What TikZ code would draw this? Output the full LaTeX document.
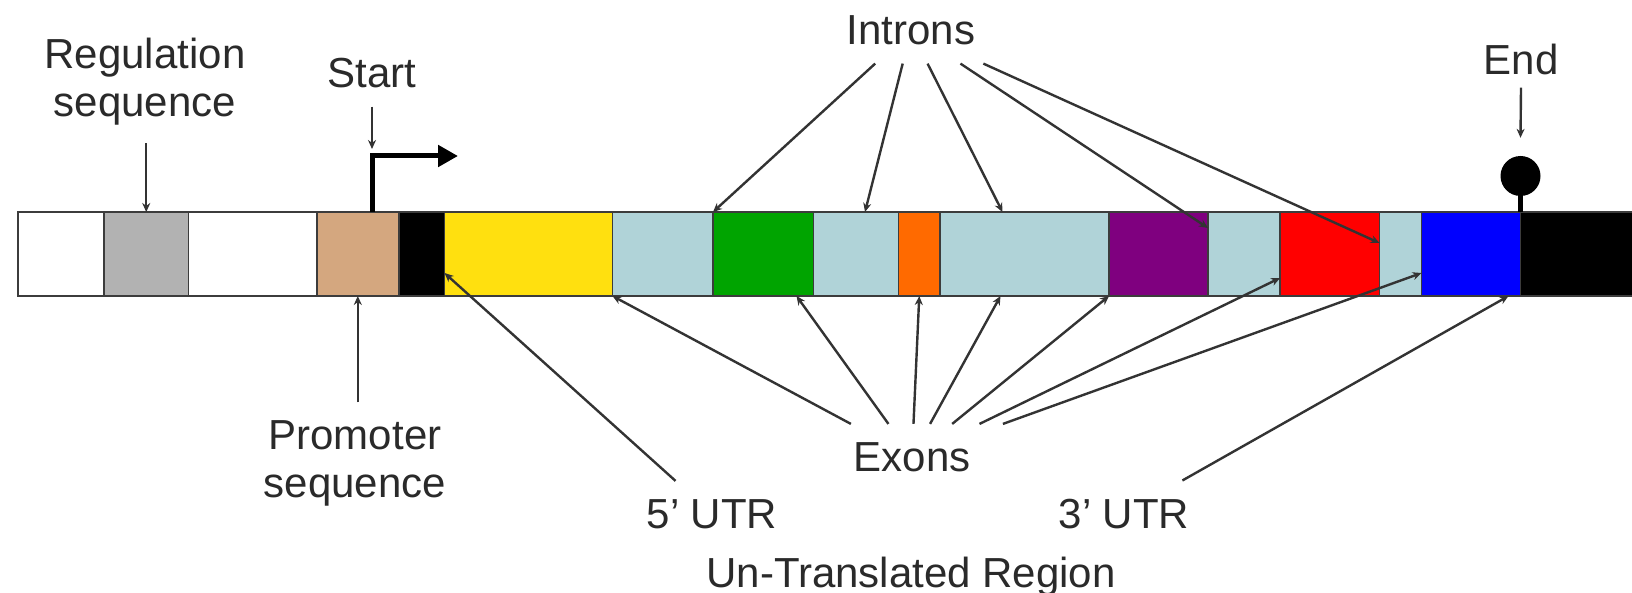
\documentclass[tikz,border=0pt]{standalone}
\usepackage{fontspec}
\setmainfont{Liberation Sans}
\usetikzlibrary{arrows.meta,calc}

\definecolor{inkgray}{HTML}{2A2A2A}
\definecolor{linegray}{HTML}{333333}
\definecolor{edgegray}{HTML}{3C3C3C}
\definecolor{regul}{HTML}{B2B2B2}
\definecolor{promo}{HTML}{D4A77F}
\definecolor{utrfive}{HTML}{FFE00F}
\definecolor{intron}{HTML}{B0D3D8}
\definecolor{exgreen}{HTML}{00A400}
\definecolor{exorange}{HTML}{FF6A00}
\definecolor{expurple}{HTML}{7F007F}
\definecolor{exred}{HTML}{FF0000}
\definecolor{utrthree}{HTML}{0000FF}

\begin{document}
\begin{tikzpicture}[x=1pt,y=-1pt,
  genebox/.style={draw=edgegray, line width=1.8pt, rectangle, inner sep=0pt,
    outer sep=0pt, minimum height=84pt, anchor=north west},
  tag/.style={font=\fontsize{42}{48}\selectfont, text=inkgray, align=center,
    inner xsep=34pt, inner ysep=18pt},
  ptr/.style={draw=linegray, line width=2.4pt, -{Stealth[length=9pt,width=8pt]}},
]
\useasboundingbox (0,0) rectangle (1632,593);
\fill[white] (0,0) rectangle (1632,593);

% the gene as a row of coloured segments
\foreach \nm/\xa/\xb/\col in {
  s1/17.7/104/white, s2/104/188.5/regul, s3/188.5/317/white,
  s4/317/398.6/promo, s5/398.6/444.5/black, s6/444.5/612.5/utrfive,
  s7/612.5/713/intron, s8/713/813.5/exgreen, s9/813.5/898.5/intron,
  s10/898.5/940/exorange, s11/940/1109/intron, s12/1109/1208/expurple,
  s13/1208/1280/intron, s14/1280/1379.5/exred, s15/1379.5/1421.5/intron,
  s16/1421.5/1520.5/utrthree, s17/1520.5/1636/black}
  \node[genebox, fill=\col, minimum width={(\xb-\xa)*1pt}] (\nm) at (\xa,212) {};

% transcription start: bent arrow
\coordinate (tss) at (372,156);
\coordinate (tssend) at (458,156);
\draw[line width=5pt, -{Triangle[length=20pt,width=21pt]}]
  (tss |- s4.north) -- (tss) -- (tssend);

% transcription end: lollipop
\node[circle, fill=black, minimum size=40pt, inner sep=0pt] (knob) at (1520.5,176) {};
\draw[line width=5pt] (knob.center) -- (knob |- s16.north east);

% labels
\node[tag] (regulation) at (145,81.5) {Regulation\\sequence};
\node[tag, anchor=base] (start) at (372,88) {Start};
\node[tag, anchor=base] (introns) at (911,45) {Introns};
\node[tag, anchor=base] (end) at (1521,75) {End};
\node[tag] (promoter) at (355,463.5) {Promoter\\sequence};
\node[tag, anchor=base] (exons) at (912,471) {Exons};
\node[tag, anchor=base] (utr5) at (712,528) {5’ UTR};
\node[tag, anchor=base] (utr3) at (1124,528) {3’ UTR};
\node[tag, anchor=base] (utrname) at (911,587) {Un-Translated Region};

% pointers
\draw[ptr] (s2.north |- regulation.south) -- (s2.north);
\draw[ptr] (promoter.north -| s4.south) -- (s4.south);
\draw[ptr, shorten >=7pt] (start) -- (tss);
\draw[ptr] ([yshift=6pt]end.south) -- ([yshift=18pt]knob.north);

\draw[ptr] (introns) -- (s8.north west);
\draw[ptr] (introns) -- ([xshift=9pt]s9.north);
\draw[ptr] (introns) -- ([xshift=-22pt]s11.north);
\draw[ptr] (introns) -- ([yshift=-16pt]s12.north east);
\draw[ptr] (introns) -- ([yshift=-31pt]s14.north east);

\draw[ptr] (exons) -- (s7.south west);
\draw[ptr] (exons) -- ([xshift=-17pt]s8.south east);
\draw[ptr] (exons) -- (s10.south);
\draw[ptr] (exons) -- ([xshift=-24pt]s11.south);
\draw[ptr] (exons) -- (s12.south west);
\draw[ptr] (exons) -- ([yshift=18pt]s13.south east);
\draw[ptr] (exons) -- ([yshift=23pt]s15.south east);

\draw[ptr] (utr5) -- ([yshift=23pt]s5.south east);
\draw[ptr] (utr3) -- ([xshift=-12pt]s16.south east);
\end{tikzpicture}
\end{document}
